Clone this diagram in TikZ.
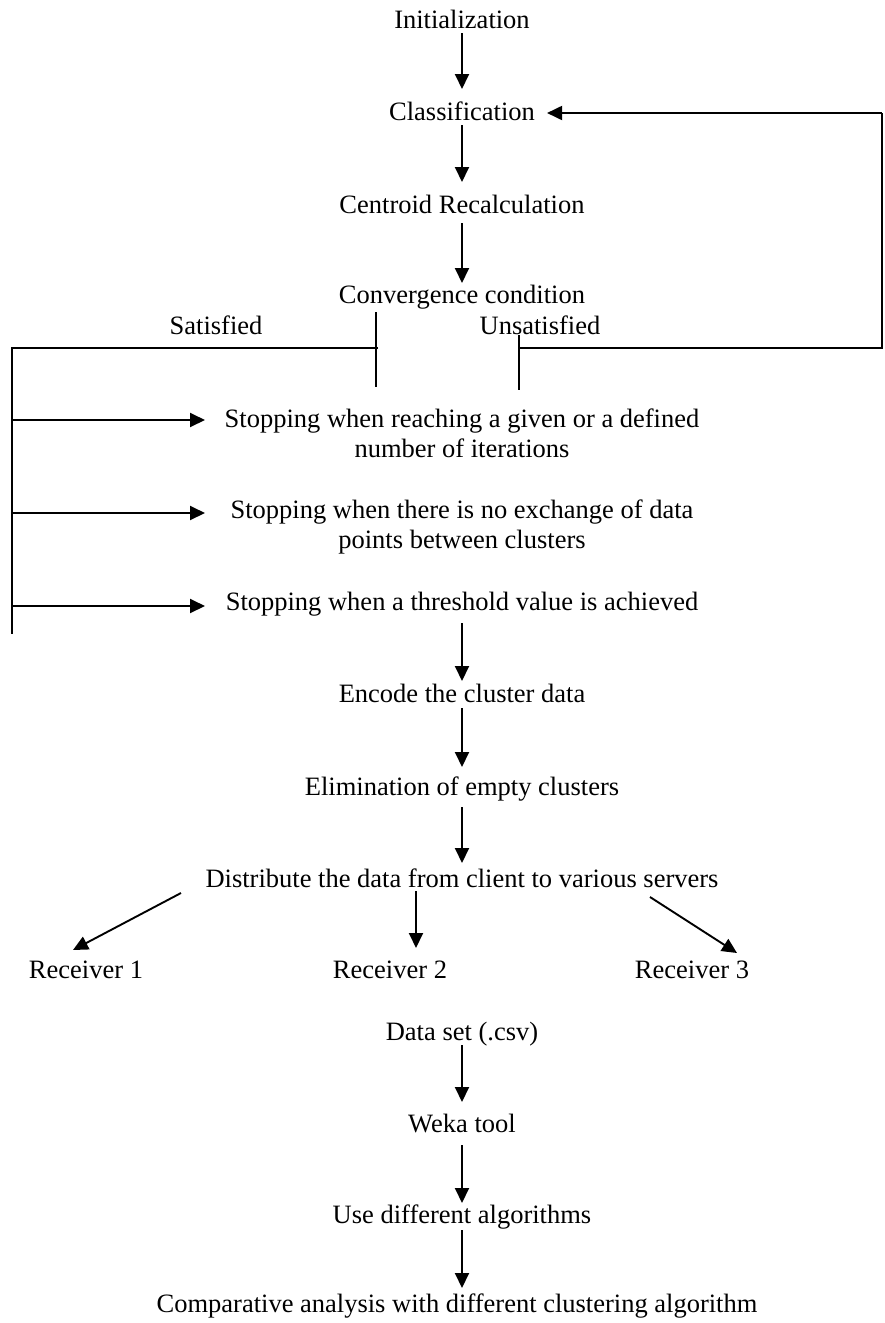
\documentclass[tikz,border=0pt]{standalone}
\usepackage{fontspec}
\setmainfont{Liberation Serif}
\usetikzlibrary{arrows.meta}
\tikzset{
  x=1pt, y=-1pt,
  txt/.style={inner sep=0pt, anchor=base, align=center, font=\fontsize{26.5}{30}\selectfont},
  conn/.style={line width=1.5pt},
  arr/.style={line width=1.9pt, -{Triangle[length=15pt,width=14pt]}},
}
\begin{document}
\begin{tikzpicture}
\useasboundingbox (0,0) rectangle (884,1323);
% nodes
\node[txt] (init) at (462,28) {Initialization};
\node[txt] (class) at (462,120) {Classification};
\node[txt] (cent) at (462,213) {Centroid Recalculation};
\node[txt] (conv) at (462,303) {Convergence condition};
\node[txt] (sat) at (216,334) {Satisfied};
\node[txt] (unsat) at (540,334) {Unsatisfied};
\node[txt] (stop1) at (462,457) {Stopping when reaching a given or a defined\\number of iterations};
\node[txt] (stop2) at (462,548) {Stopping when there is no exchange of data\\points between clusters};
\node[txt] (stop3) at (462,610) {Stopping when a threshold value is achieved};
\node[txt] (enc) at (462,702) {Encode the cluster data};
\node[txt] (elim) at (462,795) {Elimination of empty clusters};
\node[txt] (dist) at (462,887) {Distribute the data from client to various servers};
\node[txt] (r1) at (86,978) {Receiver 1};
\node[txt] (r2) at (390,978) {Receiver 2};
\node[txt] (r3) at (692,978) {Receiver 3};
\node[txt] (data) at (462,1040) {Data set (.csv)};
\node[txt] (weka) at (462,1132) {Weka tool};
\node[txt] (use) at (462,1223) {Use different algorithms};
\node[txt] (comp) at (457,1312) {Comparative analysis with different clustering algorithm};
% coordinates
\coordinate (fbR) at (882,113);
\coordinate (fbB) at (882,348);
\coordinate (uJ) at (519,348);
\coordinate (uTop) at (519,335);
\coordinate (uBot) at (519,390);
\coordinate (sTop) at (376,312);
\coordinate (sBot) at (376,387);
\coordinate (sJ) at (378,348);
\coordinate (lTop) at (12,348);
\coordinate (lBot) at (12,634);
\coordinate (b1) at (12,420);
\coordinate (b2) at (12,513);
\coordinate (b3) at (12,606);
\coordinate (t1) at (205,420);
\coordinate (t2) at (205,513);
\coordinate (t3) at (205,606);
% main chain
\draw[arr] ([yshift=-5pt]init.base) -- ([yshift=31pt]class.base);
\draw[arr] ([yshift=-5pt]class.base) -- ([yshift=31pt]cent.base);
\draw[arr] ([yshift=-10pt]cent.base) -- ([yshift=20pt]conv.base);
% feedback loop
\draw[conn] (uJ) -- (fbB) -- (fbR);
\draw[arr] (fbR) -- ([xshift=12pt,yshift=7pt]class.base east);
\draw[conn] (uTop) -- (uBot);
\draw[conn] (sTop) -- (sBot);
\draw[conn] (sJ) -- (lTop) -- (lBot);
% stopping branches
\draw[arr] (b1) -- (t1);
\draw[arr] (b2) -- (t2);
\draw[arr] (b3) -- (t3);
% lower chain
\draw[arr] ([yshift=-13pt]stop3.base) -- ([yshift=21pt]enc.base);
\draw[arr] ([yshift=-6pt]enc.base) -- ([yshift=28pt]elim.base);
\draw[arr] ([yshift=-12pt]elim.base) -- ([yshift=24pt]dist.base);
\draw[arr] ([xshift=-281pt,yshift=-6pt]dist.base) -- ([xshift=-13pt,yshift=28pt]r1.base);
\draw[arr] ([xshift=-46pt,yshift=-4pt]dist.base) -- ([xshift=26pt,yshift=30pt]r2.base);
\draw[arr] ([xshift=188pt,yshift=-10pt]dist.base) -- ([xshift=45pt,yshift=25pt]r3.base);
\draw[arr] ([yshift=-5pt]data.base) -- ([yshift=30pt]weka.base);
\draw[arr] ([yshift=-13pt]weka.base) -- ([yshift=20pt]use.base);
\draw[arr] ([yshift=-7pt]use.base) -- ([xshift=5pt,yshift=24pt]comp.base);
\end{tikzpicture}
\end{document}
